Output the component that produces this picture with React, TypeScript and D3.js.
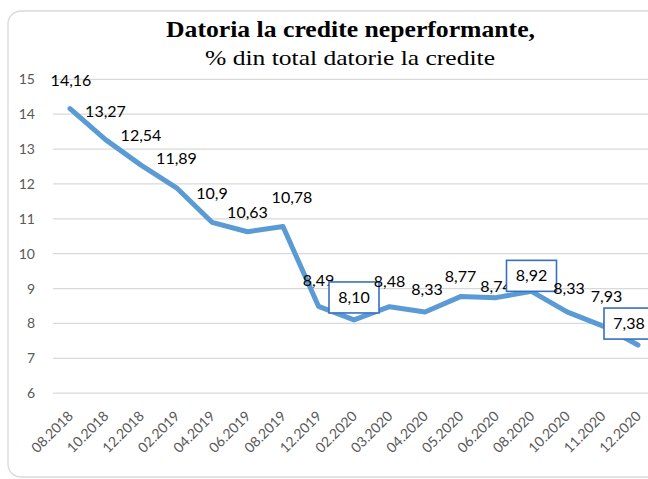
import React from "react";
import * as d3 from "d3";

const categories = ["08.2018","10.2018","12.2018","02.2019","04.2019","06.2019","08.2019","12.2019","02.2020","03.2020","04.2020","05.2020","06.2020","08.2020","10.2020","11.2020","12.2020"];
const values = [14.16,13.27,12.54,11.89,10.9,10.63,10.78,8.49,8.10,8.48,8.33,8.77,8.74,8.92,8.33,7.93,7.38];
const valueLabels = ["14,16","13,27","12,54","11,89","10,9","10,63","10,78","8,49","8,10","8,48","8,33","8,77","8,74","8,92","8,33","7,93","7,38"];
const boxedIndex = [8, 13, 16];
const leaderIndex = [15];
const yTicks = [6,7,8,9,10,11,12,13,14,15];
const titleText = "Datoria la credite neperformante,";
const subtitleText = "% din total datorie la credite";
// label offsets relative to the point [dx, dy] (presentation)
const labelOffsets: [number, number][] = [[1,-23],[0,-23],[0,-24],[0,-24],[0,-23],[0,-14],[9,-23],[0,-20],[0,-17],[0,-20],[2,-17],[0,-15],[0,-6],[0,-10],[2,-18],[4,-24],[-9,-16]];

const W = 648, H = 479;

export default function App() {
  const x = d3.scalePoint<string>().domain(categories).range([70, 638]);
  const y = d3.scaleLinear().domain([6, 15]).range([393.2, 79.3]);
  const line = d3.line<number>().x((_, i) => x(categories[i])!).y(d => y(d));
  const labelFont = "Lato, 'Open Sans', sans-serif";
  return (
    <svg width={W} height={H} style={{ position: "absolute", left: 0, top: 0 }}>
      <rect x={0} y={0} width={W} height={H} fill="#fff" />
      <rect x={8} y={11} width={720} height={466} rx={13} fill="#fff" stroke="#d9d9d9" strokeWidth={1.3} />
      <text x={350.5} y={36.5} textAnchor="middle" fontFamily="'Liberation Serif', serif" fontWeight="bold" fontSize={23} fill="#000" textLength={369} lengthAdjust="spacingAndGlyphs">{titleText}</text>
      <text x={350} y={65} textAnchor="middle" fontFamily="'Liberation Serif', serif" fontSize={22} fill="#000" textLength={290} lengthAdjust="spacingAndGlyphs">{subtitleText}</text>
      {yTicks.map(t => (
        <g key={t}>
          <line x1={53} x2={W} y1={y(t)} y2={y(t)} stroke="#d9d9d9" strokeWidth={1.3} />
          <text x={35} y={y(t) + 5} textAnchor="end" fontFamily={labelFont} fontSize={14} fill="#595959">{t}</text>
        </g>
      ))}
      {categories.map(c => (
        <text key={c} transform={`translate(${x(c)! + 4},417) rotate(-45)`} textAnchor="end" fontFamily={labelFont} fontSize={14} fill="#595959">{c}</text>
      ))}
      <path d={line(values)!} fill="none" stroke="#5B9BD5" strokeWidth={5} strokeLinejoin="round" strokeLinecap="round" />
      {leaderIndex.map(i => (
        <line key={i} x1={x(categories[i])! + 2} y1={y(values[i]) - 7} x2={x(categories[i])!} y2={y(values[i])} stroke="#a6a6a6" strokeWidth={1} />
      ))}
      {values.map((v, i) => {
        const cx = x(categories[i])! + labelOffsets[i][0];
        const by = y(v) + labelOffsets[i][1];
        const boxed = boxedIndex.includes(i);
        return (
          <g key={i}>
            {boxed && <rect x={cx - 25} y={by - 21} width={50} height={31} fill="#fff" stroke="#3A6FC0" strokeWidth={1.6} />}
            <text x={cx} y={by} textAnchor="middle" fontFamily={labelFont} fontSize={16} fill="#000">{valueLabels[i]}</text>
          </g>
        );
      })}
    </svg>
  );
}
